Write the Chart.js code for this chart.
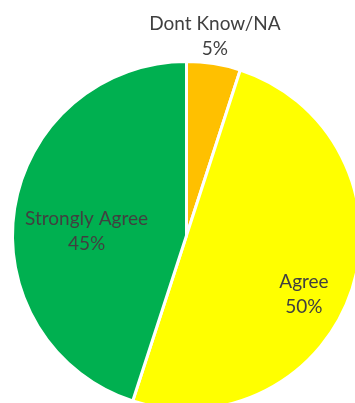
<!DOCTYPE html>
<html>
<head>
<meta charset="utf-8">
<script src="https://cdn.jsdelivr.net/npm/chart.js@4"></script>
<style>
  html, body { margin: 0; padding: 0; background: #fff; overflow: hidden; }
  #wrap { width: 355px; height: 403px; overflow: hidden; }
</style>
</head>
<body>
<div id="wrap"><canvas id="myChart" width="370" height="420"></canvas></div>
<script>
const labels = ['Dont Know/NA', 'Agree', 'Strongly Agree'];
const values = [5, 50, 45];
const colors = ['#FFC000', '#FFFF00', '#00B050'];

// where each label sits: fraction of the radius and a turn (degrees) off the slice middle
const labelRadius = [1.161, 0.753, 0.575];
const labelTurn = [-0.9, 8.3, -6.7];

const sliceLabels = {
  id: 'sliceLabels',
  afterDatasetsDraw(chart) {
    const ctx = chart.ctx;
    const meta = chart.getDatasetMeta(0);
    const total = values.reduce((a, b) => a + b, 0);
    ctx.save();
    ctx.font = '19px Lato';
    ctx.fillStyle = '#404040';
    ctx.textAlign = 'center';
    ctx.textBaseline = 'alphabetic';
    meta.data.forEach((arc, i) => {
      const mid = (arc.startAngle + arc.endAngle) / 2 + labelTurn[i] * Math.PI / 180;
      const r = arc.outerRadius * labelRadius[i];
      const x = arc.x + Math.cos(mid) * r;
      const y = arc.y + Math.sin(mid) * r;
      const pct = Math.round(values[i] / total * 100) + '%';
      ctx.fillText(labels[i], x, y - 6);
      ctx.fillText(pct, x, y + 19);
    });
    ctx.restore();
  }
};

new Chart('myChart', {
  type: 'pie',
  data: {
    labels: labels,
    datasets: [{
      data: values,
      backgroundColor: colors,
      borderColor: '#ffffff',
      borderWidth: 3
    }]
  },
  options: {
    responsive: false,
    animation: false,
    devicePixelRatio: 1,
    layout: { padding: { left: 11, top: 60, right: 8, bottom: 9 } },
    plugins: {
      legend: { display: false },
      tooltip: { enabled: false }
    }
  },
  plugins: [sliceLabels]
});
</script>
</body>
</html>
